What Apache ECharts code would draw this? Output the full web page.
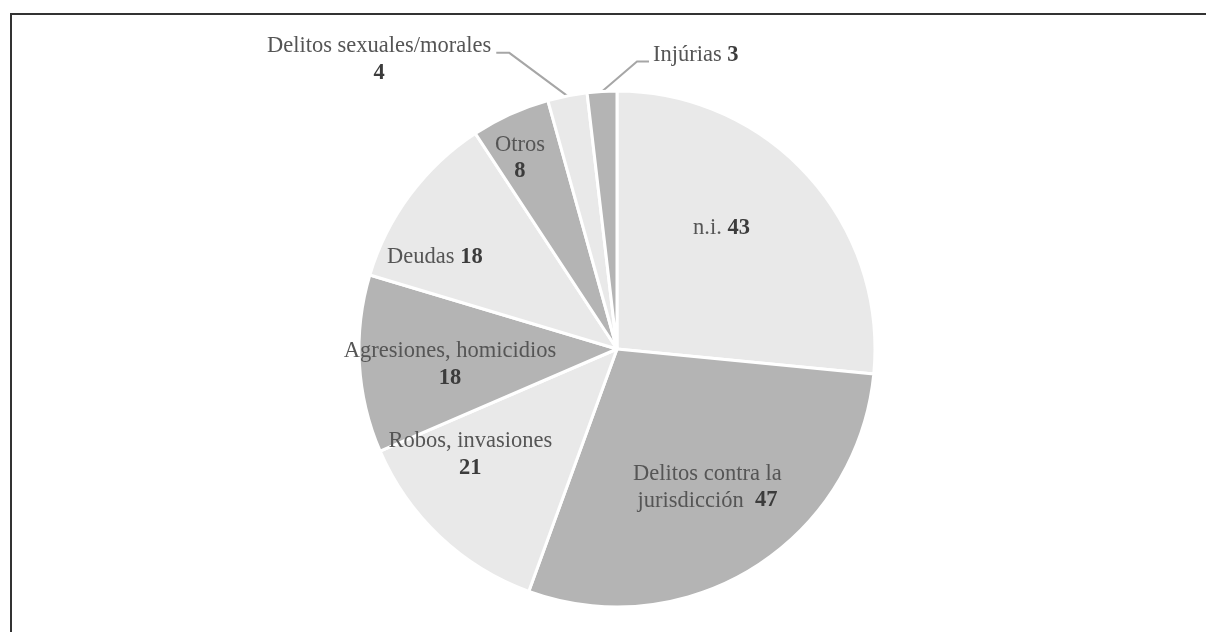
<!DOCTYPE html>
<html>
<head>
<meta charset="utf-8">
<script src="https://cdn.jsdelivr.net/npm/echarts@6/dist/echarts.min.js"></script>
<style>
  html, body { margin: 0; padding: 0; background: #fff; }
  #chart { width: 1206px; height: 632px; }
</style>
</head>
<body>
<div id="chart"></div>
<script>
// categories clockwise from 12 o'clock
var categories = ['n.i.', 'Delitos contra la\njurisdicción', 'Robos, invasiones', 'Agresiones, homicidios',
    'Deudas', 'Otros', 'Delitos sexuales/morales', 'Injúrias'];
var values = [43, 47, 21, 18, 18, 8, 4, 3];
// number printed under the name (true) or after it (false)
var numberBelow = [false, false, true, true, false, true, true, false];

var CX = 617, CY = 349, R = 258;
var LIGHT = '#e9e9e9', DARK = '#b4b4b4';
// where the inside labels sit: fraction of the radius, and turn (deg) off the slice middle
var labelRadius = [0.62, 0.64, 0.70, 0.65, 0.79, 0.83];
var labelTurn = [7, 1, -11, 2, 10, 2.5];

var chart = echarts.init(document.getElementById('chart'));

var data = categories.map(function (name, i) {
    var item = {
        name: name,
        value: values[i],
        itemStyle: { color: i % 2 === 0 ? LIGHT : DARK }
    };
    if (i >= 6) {
        item.label = { position: 'outside' };
        item.labelLine = { show: true, length: 10, length2: 10, lineStyle: { color: '#a6a6a6', width: 2 } };
    }
    return item;
});

var option = {
    backgroundColor: '#fff',
    animation: false,
    graphic: [{
        type: 'rect',
        shape: { x: 11, y: 14, width: 1400, height: 800 },
        style: { fill: 'none', stroke: '#333', lineWidth: 2 },
        silent: true
    }],
    series: [{
        type: 'pie',
        center: [CX, CY],
        radius: R,
        startAngle: 90,
        clockwise: true,
        avoidLabelOverlap: false,
        itemStyle: { borderColor: '#fff', borderWidth: 3 },
        label: {
            position: 'inside',
            fontFamily: 'Liberation Serif',
            fontSize: 22.5,
            lineHeight: 27,
            color: '#555',
            formatter: function (p) {
                var sep = numberBelow[p.dataIndex] ? '\n' : (p.dataIndex === 1 ? '  ' : ' ');
                return '{n|' + p.name + '}' + sep + '{b|' + p.value + '}';
            },
            rich: {
                n: { fontFamily: 'Liberation Serif', fontSize: 22.5, lineHeight: 27, color: '#555' },
                b: { fontFamily: 'Liberation Serif', fontSize: 22.5, lineHeight: 27, color: '#3c3c3c', fontWeight: 'bold' }
            }
        },
        labelLine: { show: false },
        labelLayout: function (p) {
            var i = p.dataIndex;
            var r = p.labelRect;
            var pts = p.labelLinePoints;
            if (i === 6 && pts) {
                var a = pts[0];
                var b = [a[0] - 58, a[1] - 43];
                var c = [b[0] - 13, b[1]];
                return {
                    x: c[0] - 5 - r.width / 2,
                    y: c[1] - 7 - 13.5,
                    align: 'center',
                    verticalAlign: 'top',
                    labelLinePoints: [a, b, c]
                };
            }
            if (i === 7 && pts) {
                var a2 = pts[0];
                var b2 = [a2[0] + 35, a2[1] - 30];
                var c2 = [b2[0] + 12, b2[1]];
                return {
                    x: c2[0] + 4,
                    y: c2[1] - 6,
                    align: 'left',
                    verticalAlign: 'middle',
                    labelLinePoints: [a2, b2, c2]
                };
            }
            // move inside labels along their slice
            var mx = r.x + r.width / 2, my = r.y + r.height / 2;
            var ang = Math.atan2(-(my - CY), mx - CX) + labelTurn[i] * Math.PI / 180;
            var dist = labelRadius[i] * R;
            var tx = CX + dist * Math.cos(ang), ty = CY - dist * Math.sin(ang);
            return { dx: tx - mx, dy: ty - my };
        },
        data: data
    }]
};

chart.setOption(option);
</script>
</body>
</html>
